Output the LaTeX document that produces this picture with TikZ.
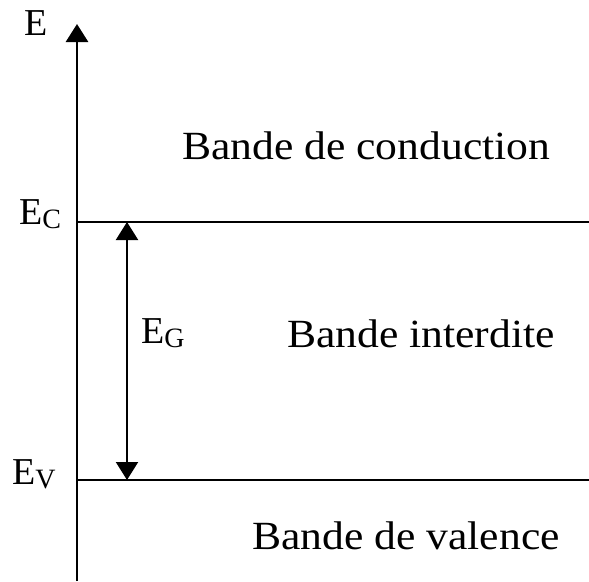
\documentclass[tikz,border=0pt]{standalone}
\usepackage{fontspec}
\setmainfont{Liberation Serif}
\usetikzlibrary{arrows.meta}
\newcommand{\sublab}[2]{#1\raisebox{-4pt}{\fontsize{28}{28}\selectfont #2}}
\begin{document}
\begin{tikzpicture}[x=1pt,y=-1pt,
  axisline/.style={line width=2.8pt,-{Triangle[length=18pt,width=22pt]}},
  level/.style={line width=2.2pt},
  gap/.style={line width=2.2pt,{Triangle[length=18pt,width=22pt]}-{Triangle[length=18pt,width=22pt]}},
  band/.style={anchor=base west,inner sep=0pt,font=\fontsize{40}{40}\selectfont,xscale=1.09,transform shape},
  elab/.style={anchor=base west,inner sep=0pt,font=\fontsize{38}{38}\selectfont}]
\useasboundingbox (0,0) rectangle (589,581);
\coordinate (axb) at (77,581);
\coordinate (axt) at (77,24);
\coordinate (ec0) at (77,222);
\coordinate (ec1) at (589,222);
\coordinate (ev0) at (77,480);
\coordinate (ev1) at (589,480);
\coordinate (gt) at (127,222);
\coordinate (gb) at (127,480);
\draw[axisline] (axb) -- (axt);
\draw[level] (ec0) -- (ec1);
\draw[level] (ev0) -- (ev1);
\draw[gap] (gb) -- (gt);
\node[elab] (E) at (24,35) {E};
\node[elab] (EC) at (19,224) {\sublab{E}{C}};
\node[elab] (EV) at (12,484) {\sublab{E}{V}};
\node[elab] (EG) at (141,343) {\sublab{E}{G}};
\node[band] (bc) at (182,159) {Bande de conduction};
\node[band] (bi) at (287,347) {Bande interdite};
\node[band] (bv) at (252,549) {Bande de valence};
\end{tikzpicture}
\end{document}
